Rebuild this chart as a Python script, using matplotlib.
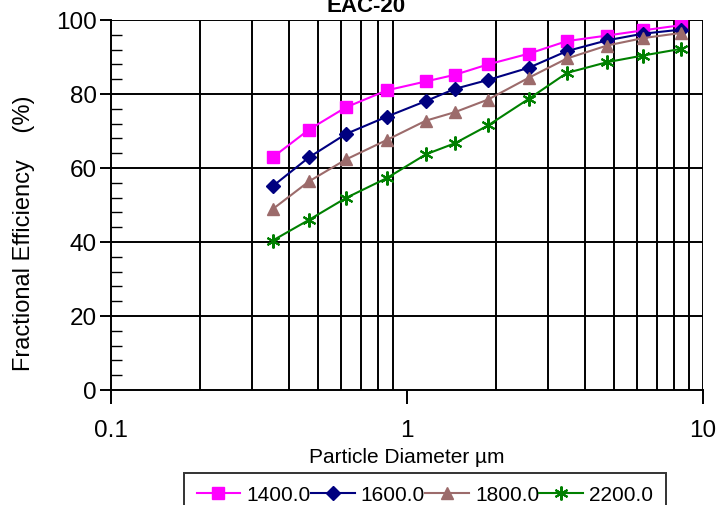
import numpy as np
import matplotlib.pyplot as plt
from matplotlib.ticker import FixedLocator, NullFormatter

plt.rcParams['font.family'] = ['Liberation Sans', 'DejaVu Sans']

# Particle diameters (um) and fractional efficiencies (%) per series
diameter = [0.352, 0.467, 0.622, 0.856, 1.159, 1.453, 1.878, 2.58, 3.47, 4.74, 6.27, 8.43]
eff_1400 = [62.9, 70.4, 76.4, 81.0, 83.4, 85.2, 88.0, 90.9, 94.3, 95.8, 97.2, 98.6]
eff_1600 = [55.1, 62.9, 69.2, 73.9, 78.1, 81.4, 83.8, 87.1, 91.6, 94.5, 96.3, 97.4]
eff_1800 = [48.9, 56.4, 62.3, 67.6, 72.8, 75.1, 78.5, 84.4, 89.6, 93.1, 95.1, 96.5]
eff_2200 = [40.4, 46.0, 51.9, 57.3, 63.7, 66.7, 71.5, 78.7, 85.7, 88.6, 90.4, 92.2]
labels = ["1400.0", "1600.0", "1800.0", "2200.0"]

fig = plt.figure(figsize=(7.17, 5.06), dpi=100)
ax = fig.add_axes([0.1548, 0.2273, 0.8257, 0.7312])

ax.set_xscale('log')
ax.set_xlim(0.1, 10)
ax.set_ylim(0, 100)

# Gridlines at every log minor position (plus 10) and each 20 %
minor_x = [m * 10.0 ** e for e in (-1, 0) for m in range(2, 10)]
for xv in minor_x + [10]:
    ax.axvline(xv, color='black', linewidth=1.4, zorder=1)
for yv in [20, 40, 60, 80, 100]:
    ax.axhline(yv, color='black', linewidth=1.4, zorder=1)

ax.plot(diameter, eff_1400, color='#FF00FF', marker='s', markersize=9, linewidth=1.5, label=labels[0], zorder=3)
ax.plot(diameter, eff_1600, color='#000080', marker='D', markersize=7, linewidth=1.5, label=labels[1], zorder=3)
ax.plot(diameter, eff_1800, color='#9C6B6B', marker='^', markersize=9, linewidth=1.5, label=labels[2], zorder=3)
ax.plot(diameter, eff_2200, color='#008000', marker=(6, 2, 0), markersize=10, markeredgewidth=1.5,
        linewidth=1.5, label=labels[3], zorder=3)

ax.xaxis.set_major_locator(FixedLocator([0.1, 1, 10]))
ax.set_xticklabels(["0.1", "1", "10"])
ax.xaxis.set_minor_locator(FixedLocator(minor_x))
ax.xaxis.set_minor_formatter(NullFormatter())
ax.tick_params(axis='x', which='major', direction='out', length=10, width=1.4, labelsize=17.5, pad=11)
ax.tick_params(axis='x', which='minor', length=0)

ax.set_yticks([0, 20, 40, 60, 80, 100])
ax.yaxis.set_minor_locator(FixedLocator([v for v in range(0, 101, 4) if v % 20 != 0]))
ax.tick_params(axis='y', which='major', direction='out', length=8, width=1.4, labelsize=17.5, pad=2)
ax.tick_params(axis='y', which='minor', direction='in', length=8, width=1.0)

for s in ax.spines.values():
    s.set_linewidth(1.4)
ax.spines['top'].set_visible(False)
ax.spines['right'].set_visible(False)

ax.set_xlabel("Particle Diameter \u00b5m", fontsize=15, labelpad=4)
ax.set_ylabel("Fractional Efficiency    (%)", fontsize=17)
ax.yaxis.set_label_coords(-0.128, 0.427)

fig.text(366 / 717, 1 - 12 / 506, "EAC-20", fontsize=16, fontweight='bold', ha='center', va='baseline')

leg = fig.legend(loc='upper left', bbox_to_anchor=(184 / 717, 1 - 474 / 506), ncol=4, fontsize=15,
                 frameon=True, fancybox=False, handlelength=2.1, handletextpad=0.3, columnspacing=0.0,
                 borderpad=0.6, borderaxespad=0)
leg.get_frame().set_edgecolor('black')
leg.get_frame().set_linewidth(1.4)

plt.savefig("out.png", dpi=100)
